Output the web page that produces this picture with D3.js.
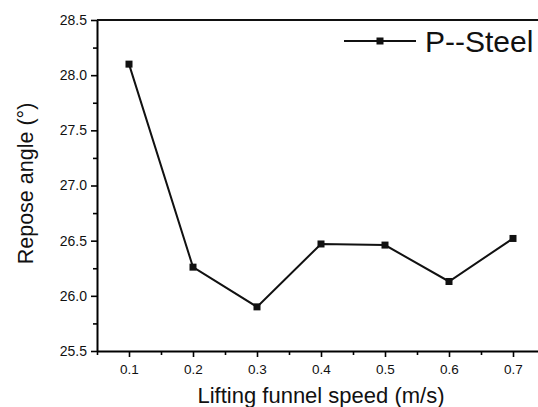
<!DOCTYPE html>
<html>
<head>
<meta charset="utf-8">
<script src="https://cdn.jsdelivr.net/npm/d3@7"></script>
<style>
  body { margin: 0; background: #fff; }
  svg text { font-family: "Liberation Sans", Arial, sans-serif; fill: #111; }
</style>
</head>
<body>
<div id="container"></div>
<script>
const speeds = [0.1, 0.2, 0.3, 0.4, 0.5, 0.6, 0.7];
const reposeAngles = [28.10, 26.26, 25.90, 26.47, 26.46, 26.13, 26.52];
const xTicks = [0.1, 0.2, 0.3, 0.4, 0.5, 0.6, 0.7];
const xMinorTicks = [0.05, 0.15, 0.25, 0.35, 0.45, 0.55, 0.65, 0.75];
const yTicks = [25.5, 26.0, 26.5, 27.0, 27.5, 28.0, 28.5];
const yMinorTicks = [25.75, 26.25, 26.75, 27.25, 27.75, 28.25];
const seriesName = 'P--Steel';

const width = 538;
const height = 407;
const plotLeft = 97, plotTop = 20, plotRight = 545, plotBottom = 351;

const svg = d3.select('#container').append('svg')
  .attr('width', width)
  .attr('height', height);

const x = d3.scaleLinear().domain([0.05, 0.75]).range([plotLeft, plotRight]);
const y = d3.scaleLinear().domain([25.5, 28.5]).range([plotBottom, plotTop]);

// minor ticks first
svg.append('g')
  .attr('transform', `translate(0,${plotBottom})`)
  .call(d3.axisBottom(x).tickValues(xMinorTicks).tickSize(4).tickFormat(''))
  .call(g => g.select('.domain').remove())
  .call(g => g.selectAll('line').attr('stroke-width', 1.6));

svg.append('g')
  .attr('transform', `translate(${plotLeft},0)`)
  .call(d3.axisLeft(y).tickValues(yMinorTicks).tickSize(4).tickFormat(''))
  .call(g => g.select('.domain').remove())
  .call(g => g.selectAll('line').attr('stroke-width', 1.6));

const xAxis = svg.append('g')
  .attr('transform', `translate(0,${plotBottom})`)
  .call(d3.axisBottom(x).tickValues(xTicks).tickSize(6).tickSizeOuter(0).tickPadding(7)
    .tickFormat(d3.format('.1f')));
xAxis.select('.domain').attr('stroke-width', 2);
xAxis.selectAll('line').attr('stroke-width', 1.6);
xAxis.selectAll('text').style('font-size', '13.5px');

const yAxis = svg.append('g')
  .attr('transform', `translate(${plotLeft},0)`)
  .call(d3.axisLeft(y).tickValues(yTicks).tickSize(6).tickSizeOuter(0).tickPadding(4)
    .tickFormat(d3.format('.1f')));
yAxis.select('.domain').attr('stroke-width', 2);
yAxis.selectAll('line').attr('stroke-width', 1.6);
yAxis.selectAll('text').style('font-size', '14px');

// top frame
svg.append('line')
  .attr('x1', x(0.05)).attr('x2', x(0.75))
  .attr('y1', y(28.5)).attr('y2', y(28.5))
  .attr('stroke', '#111').attr('stroke-width', 2);

const points = speeds.map((s, i) => ({s, v: reposeAngles[i]}));

svg.append('path')
  .datum(points)
  .attr('fill', 'none')
  .attr('stroke', '#111')
  .attr('stroke-width', 2)
  .attr('d', d3.line().x(d => x(d.s)).y(d => y(d.v)));

svg.selectAll('rect.pt')
  .data(points)
  .enter()
  .append('rect')
  .attr('class', 'pt')
  .attr('x', d => x(d.s) - 3.5)
  .attr('y', d => y(d.v) - 3.5)
  .attr('width', 7)
  .attr('height', 7)
  .attr('fill', '#111');

// legend
const legend = svg.append('g').attr('transform', 'translate(344,41)');
legend.append('line').attr('x1', 0).attr('x2', 72).attr('y1', 0).attr('y2', 0)
  .attr('stroke', '#111').attr('stroke-width', 2);
legend.append('rect').attr('x', 32.5).attr('y', -3.5).attr('width', 7).attr('height', 7).attr('fill', '#111');
legend.append('text').attr('x', 81).attr('y', 51.5 - 41).style('font-size', '30px').text(seriesName);

// axis titles
svg.append('text')
  .attr('x', (plotLeft + plotRight) / 2)
  .attr('y', 403)
  .attr('text-anchor', 'middle')
  .style('font-size', '22px')
  .text('Lifting funnel speed (m/s)');

svg.append('text')
  .attr('transform', `translate(33,${(plotTop + plotBottom) / 2 - 2}) rotate(-90)`)
  .attr('text-anchor', 'middle')
  .style('font-size', '21.5px')
  .text('Repose angle (°)');
</script>
</body>
</html>
